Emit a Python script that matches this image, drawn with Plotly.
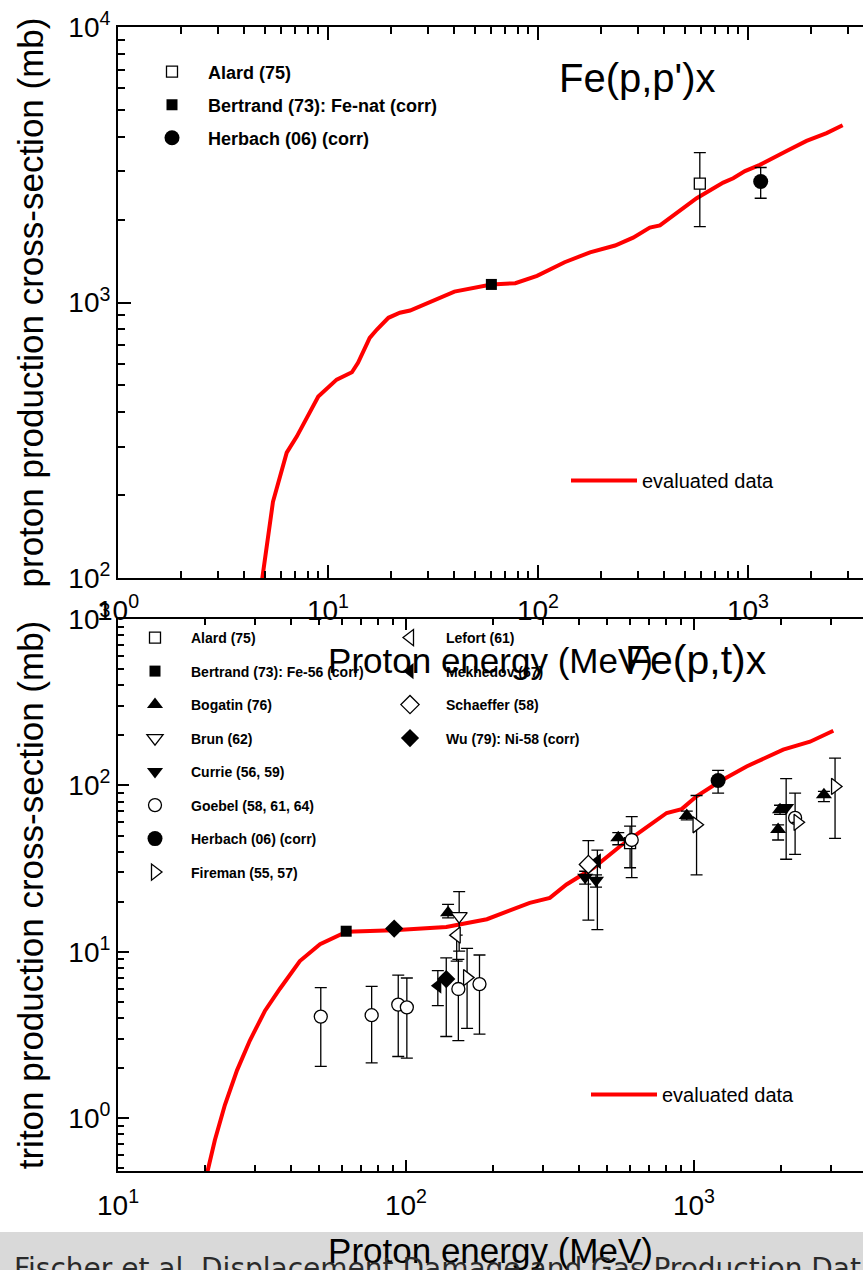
import plotly.graph_objects as go

# ---------------- data: top panel, Fe(p,p')x ----------------
top_eval_energy = [4.85, 5.47, 6.36, 7.10, 8.99, 11.0, 13.0, 13.9, 15.8, 17.1, 19.4, 22.0, 24.6, 30.0, 40.0,
                   60.0, 78.0, 99.0, 134, 177, 233, 284, 341, 381, 475, 570, 763, 851, 968, 1140, 1528,
                   1902, 2370, 2825]
top_eval_xs = [98, 189, 285, 326, 456, 525, 558, 604, 744, 798, 880, 918, 935, 1000, 1095,
               1163, 1175, 1250, 1400, 1520, 1610, 1720, 1870, 1905, 2150, 2390, 2725, 2825, 3000, 3160, 3550,
               3860, 4120, 4400]

top_alard_energy = [590]
top_alard_xs = [2700]
top_alard_hi = [3500]
top_alard_lo = [1885]

top_bertrand_energy = [60]
top_bertrand_xs = [1163]

top_herbach_energy = [1150]
top_herbach_xs = [2750]
top_herbach_hi = [3090]
top_herbach_lo = [2390]

# ---------------- data: bottom panel, Fe(p,t)x ----------------
bot_eval_energy = [20.4, 21.7, 23.5, 25.9, 28.7, 32.4, 36.5, 42.8, 50.3, 62.2, 90.4, 138, 191, 236, 269,
                   316, 361, 448, 554, 667, 804, 906, 1021, 1231, 1523, 2041, 2529, 3048]
bot_eval_xs = [0.47, 0.74, 1.2, 1.94, 2.93, 4.43, 6.0, 8.8, 11.1, 13.2, 13.5, 14.1, 15.7, 18.0, 19.7,
               21.1, 25.4, 32.0, 43.1, 54.3, 68.3, 72.1, 86, 106, 130, 164, 183, 213]

alard_energy = [600]
alard_xs = [45]
alard_hi = [57]
alard_lo = [32]

bertrand_energy = [62]
bertrand_xs = [13.3]

bogatin_energy = [140, 546, 944, 1960, 1990, 2827]
bogatin_xs = [17.2, 48.4, 66, 54.3, 71.5, 88]
bogatin_hi = [19.3, 52, 70, 58, 76, 92]
bogatin_lo = [16.0, 44, 62, 47, 67, 80]

brun_energy = [153]
brun_xs = [16.4]
brun_hi = [23]
brun_lo = [10.1]

currie_energy = [419, 457, 2090]
currie_xs = [28.1, 26.9, 73.7]
currie_hi = [30.5, 29.0, 110]
currie_lo = [25.5, 24.5, 36]

goebel_energy = [50.6, 76, 94, 100.7, 152, 180, 608, 2245]
goebel_xs = [4.08, 4.16, 4.82, 4.64, 5.98, 6.4, 47, 63.8]
goebel_hi = [6.1, 6.2, 7.25, 6.96, 9.0, 9.57, 65, 90]
goebel_lo = [2.05, 2.15, 2.35, 2.3, 2.93, 3.2, 27.9, 38.5]

herbach_energy = [1213]
herbach_xs = [107]
herbach_hi = [123]
herbach_lo = [90]

fireman_energy = [163, 1021, 2290, 3090]
fireman_xs = [7.0, 58, 60, 98.6]
fireman_hi = [10.5, 87, 60, 146]
fireman_lo = [3.47, 29, 60, 48]

lefort_energy = [150]
lefort_xs = [12.6]
lefort_hi = [12.6]
lefort_lo = [8.8]

mekhedov_energy = [129, 462]
mekhedov_xs = [6.26, 35]
mekhedov_hi = [7.7, 40.8]
mekhedov_lo = [4.75, 13.6]

schaeffer_energy = [430]
schaeffer_xs = [33.5]
schaeffer_hi = [46.6]
schaeffer_lo = [15.5]

wu_energy = [91, 138]
wu_xs = [13.8, 6.86]
wu_hi = [13.8, 9.2]
wu_lo = [13.8, 3.1]

x_top_ticks = [1, 10, 100, 1000]
x_top_ticktext = ["10<sup>0</sup>", "10<sup>1</sup>", "10<sup>2</sup>", "10<sup>3</sup>"]
y_top_ticks = [100, 1000, 10000]
y_top_ticktext = ["10<sup>2</sup>", "10<sup>3</sup>", "10<sup>4</sup>"]
x_bot_ticks = [10, 100, 1000]
x_bot_ticktext = ["10<sup>1</sup>", "10<sup>2</sup>", "10<sup>3</sup>"]
y_bot_ticks = [1, 10, 100, 1000]
y_bot_ticktext = ["10<sup>0</sup>", "10<sup>1</sup>", "10<sup>2</sup>", "10<sup>3</sup>"]

# ---------------- figure ----------------
W, H = 863, 1270
FONT = "Liberation Sans, Arial, sans-serif"


def px(xp):
    return xp / W


def py(yp):
    return 1 - yp / H


def errbar(vals, hi, lo):
    return dict(type="data", symmetric=False,
                array=[h - v for v, h in zip(vals, hi)],
                arrayminus=[v - l for v, l in zip(vals, lo)],
                color="black", thickness=1.3, width=6, visible=True)


def minor_vals(d0, d1):
    return [m * 10 ** d for d in range(d0, d1) for m in range(2, 10)]


fig = go.Figure()

# top panel
fig.add_trace(go.Scatter(x=top_eval_energy, y=top_eval_xs, mode="lines", name="evaluated data",
                         line=dict(color="#ff0000", width=4), xaxis="x", yaxis="y", legend="legend2"))
fig.add_trace(go.Scatter(x=top_alard_energy, y=top_alard_xs, mode="markers", name="Alard (75)",
                         marker=dict(symbol="square", size=11, color="white", line=dict(color="black", width=1.3)),
                         error_y=errbar(top_alard_xs, top_alard_hi, top_alard_lo),
                         xaxis="x", yaxis="y", legend="legend", legendgroup="t1"))
fig.add_trace(go.Scatter(x=top_bertrand_energy, y=top_bertrand_xs, mode="markers",
                         name="Bertrand (73): Fe-nat (corr)",
                         marker=dict(symbol="square", size=11, color="black"),
                         xaxis="x", yaxis="y", legend="legend", legendgroup="t2"))
fig.add_trace(go.Scatter(x=top_herbach_energy, y=top_herbach_xs, mode="markers", name="Herbach (06) (corr)",
                         marker=dict(symbol="circle", size=15, color="black"),
                         error_y=errbar(top_herbach_xs, top_herbach_hi, top_herbach_lo),
                         xaxis="x", yaxis="y", legend="legend", legendgroup="t3"))

# bottom panel
fig.add_trace(go.Scatter(x=bot_eval_energy, y=bot_eval_xs, mode="lines", name="evaluated data",
                         line=dict(color="#ff0000", width=4), xaxis="x2", yaxis="y2", legend="legend5"))

white = dict(color="white", line=dict(color="black", width=1.3))
black = dict(color="black", line=dict(color="black", width=0))
series = [
    ("Alard (75)", alard_energy, alard_xs, alard_hi, alard_lo, "square", 11, white, "legend3"),
    ("Bertrand (73): Fe-56 (corr)", bertrand_energy, bertrand_xs, None, None, "square", 11, black, "legend3"),
    ("Bogatin (76)", bogatin_energy, bogatin_xs, bogatin_hi, bogatin_lo, "triangle-up", 14, black, "legend3"),
    ("Brun (62)", brun_energy, brun_xs, brun_hi, brun_lo, "triangle-down", 14, white, "legend3"),
    ("Currie (56, 59)", currie_energy, currie_xs, currie_hi, currie_lo, "triangle-down", 14, black, "legend3"),
    ("Goebel (58, 61, 64)", goebel_energy, goebel_xs, goebel_hi, goebel_lo, "circle", 13, white, "legend3"),
    ("Herbach (06) (corr)", herbach_energy, herbach_xs, herbach_hi, herbach_lo, "circle", 15, black, "legend3"),
    ("Fireman (55, 57)", fireman_energy, fireman_xs, fireman_hi, fireman_lo, "triangle-right", 14, white, "legend3"),
    ("Lefort (61)", lefort_energy, lefort_xs, lefort_hi, lefort_lo, "triangle-left", 14, white, "legend4"),
    ("Mekhedov (67)", mekhedov_energy, mekhedov_xs, mekhedov_hi, mekhedov_lo, "triangle-left", 14, black, "legend4"),
    ("Schaeffer (58)", schaeffer_energy, schaeffer_xs, schaeffer_hi, schaeffer_lo, "diamond", 14, white, "legend4"),
    ("Wu (79): Ni-58 (corr)", wu_energy, wu_xs, wu_hi, wu_lo, "diamond", 14, black, "legend4"),
]
for i, (name, e, v, hi, lo, sym, size, style, leg) in enumerate(series):
    tr = go.Scatter(x=e, y=v, mode="markers", name=name,
                    marker=dict(symbol=sym, size=size, **style),
                    xaxis="x2", yaxis="y2", legend=leg, legendgroup="b%d" % i)
    if hi is not None:
        tr.error_y = errbar(v, hi, lo)
    fig.add_trace(tr)

axis_common = dict(type="log", showline=True, linecolor="black", linewidth=2, showgrid=False,
                   zeroline=False, ticks="inside", tickcolor="black", tickwidth=1.5,
                   tickfont=dict(family=FONT, size=28, color="black"), tickmode="array",
                   automargin=False)
minor_common = dict(ticks="inside", tickcolor="black", tickwidth=1.5, showgrid=False)

top_dom = [py(578), py(27)]
bot_dom = [py(1171), py(619)]
xdom = [px(118), 1.0]

fig.update_layout(
    width=W, height=H, margin=dict(l=0, r=0, t=0, b=0),
    paper_bgcolor="white", plot_bgcolor="white",
    font=dict(family=FONT, color="black"),
    xaxis=dict(axis_common, domain=xdom, anchor="y", range=[0, 3.548], mirror="ticks",
               tickvals=x_top_ticks, ticktext=x_top_ticktext, ticklen=13, ticklabelstandoff=6,
               minor=dict(minor_common, tickvals=minor_vals(0, 4), ticklen=7),
               title=dict(text="Proton energy (MeV)", font=dict(family=FONT, size=35), standoff=24)),
    yaxis=dict(axis_common, domain=top_dom, anchor="x", range=[2, 4],
               tickvals=y_top_ticks, ticktext=y_top_ticktext, ticklen=13,
               minor=dict(minor_common, tickvals=minor_vals(2, 4), ticklen=7),
               title=dict(text="proton production cross-section (mb)", font=dict(family=FONT, size=35),
                          standoff=14)),
    yaxis3=dict(type="log", overlaying="y", side="right", anchor="x", range=[2, 4], showline=False,
                showgrid=False, zeroline=False, ticks="inside", tickcolor="black", tickwidth=1.5,
                tickmode="array", tickvals=y_top_ticks, ticklen=13, showticklabels=False,
                minor=dict(minor_common, tickvals=minor_vals(2, 4), ticklen=7)),
    xaxis2=dict(axis_common, domain=xdom, anchor="y2", range=[1, 3.587], mirror="ticks",
                tickvals=x_bot_ticks, ticktext=x_bot_ticktext, ticklen=11, ticklabelstandoff=8,
                minor=dict(minor_common, tickvals=minor_vals(1, 4), ticklen=6),
                title=dict(text="Proton energy (MeV)", font=dict(family=FONT, size=35), standoff=23)),
    yaxis2=dict(axis_common, domain=bot_dom, anchor="x2", range=[-0.317, 3],
                tickvals=y_bot_ticks, ticktext=y_bot_ticktext, ticklen=11,
                minor=dict(minor_common, tickvals=minor_vals(-1, 3), ticklen=6),
                title=dict(text="triton production cross-section (mb)", font=dict(family=FONT, size=35),
                           standoff=14)),
    yaxis4=dict(type="log", overlaying="y2", side="right", anchor="x2", range=[-0.317, 3], showline=False,
                showgrid=False, zeroline=False, ticks="inside", tickcolor="black", tickwidth=1.5,
                tickmode="array", tickvals=y_bot_ticks, ticklen=11, showticklabels=False,
                minor=dict(minor_common, tickvals=minor_vals(-1, 3), ticklen=6)),
    legend=dict(x=px(136), y=py(53.5), xanchor="left", yanchor="top", bgcolor="rgba(0,0,0,0)",
                font=dict(family=FONT, size=18, weight="bold"), tracegroupgap=6.6, itemwidth=62,
                traceorder="grouped"),
    legend2=dict(x=px(566), y=py(461), xanchor="left", yanchor="top", bgcolor="rgba(0,0,0,0)",
                 font=dict(family=FONT, size=20), itemwidth=66),
    legend3=dict(x=px(119), y=py(622), xanchor="left", yanchor="top", bgcolor="rgba(0,0,0,0)",
                 font=dict(family=FONT, size=14, weight="bold"), tracegroupgap=12.3, itemwidth=62,
                 traceorder="grouped"),
    legend4=dict(x=px(374), y=py(622), xanchor="left", yanchor="top", bgcolor="rgba(0,0,0,0)",
                 font=dict(family=FONT, size=14, weight="bold"), tracegroupgap=12.3, itemwidth=62,
                 traceorder="grouped"),
    legend5=dict(x=px(586), y=py(1075), xanchor="left", yanchor="top", bgcolor="rgba(0,0,0,0)",
                 font=dict(family=FONT, size=20), itemwidth=66),
    shapes=[dict(type="rect", xref="paper", yref="paper", x0=0, x1=1, y0=0, y1=py(1232),
                 fillcolor="#d9d9d9", line=dict(width=0), layer="below")],
    annotations=[
        dict(text="Fe(p,p')x", x=px(637), y=py(78), xref="paper", yref="paper", showarrow=False,
             xanchor="center", yanchor="middle", font=dict(family=FONT, size=40)),
        dict(text="Fe(p,t)x", x=px(696), y=py(660), xref="paper", yref="paper", showarrow=False,
             xanchor="center", yanchor="middle", font=dict(family=FONT, size=41)),
        dict(text="Fischer et al. Displacement Damage and Gas Production Data", x=px(12), y=py(1250),
             xref="paper", yref="paper", showarrow=False, xanchor="left", yanchor="top",
             font=dict(family="DejaVu Sans, Verdana, sans-serif", size=28, color="#2a2a2a")),
    ],
)

fig.write_html("out.html", config={"displayModeBar": False},
               post_script="document.body.style.margin='0';document.body.style.overflow='hidden';")
